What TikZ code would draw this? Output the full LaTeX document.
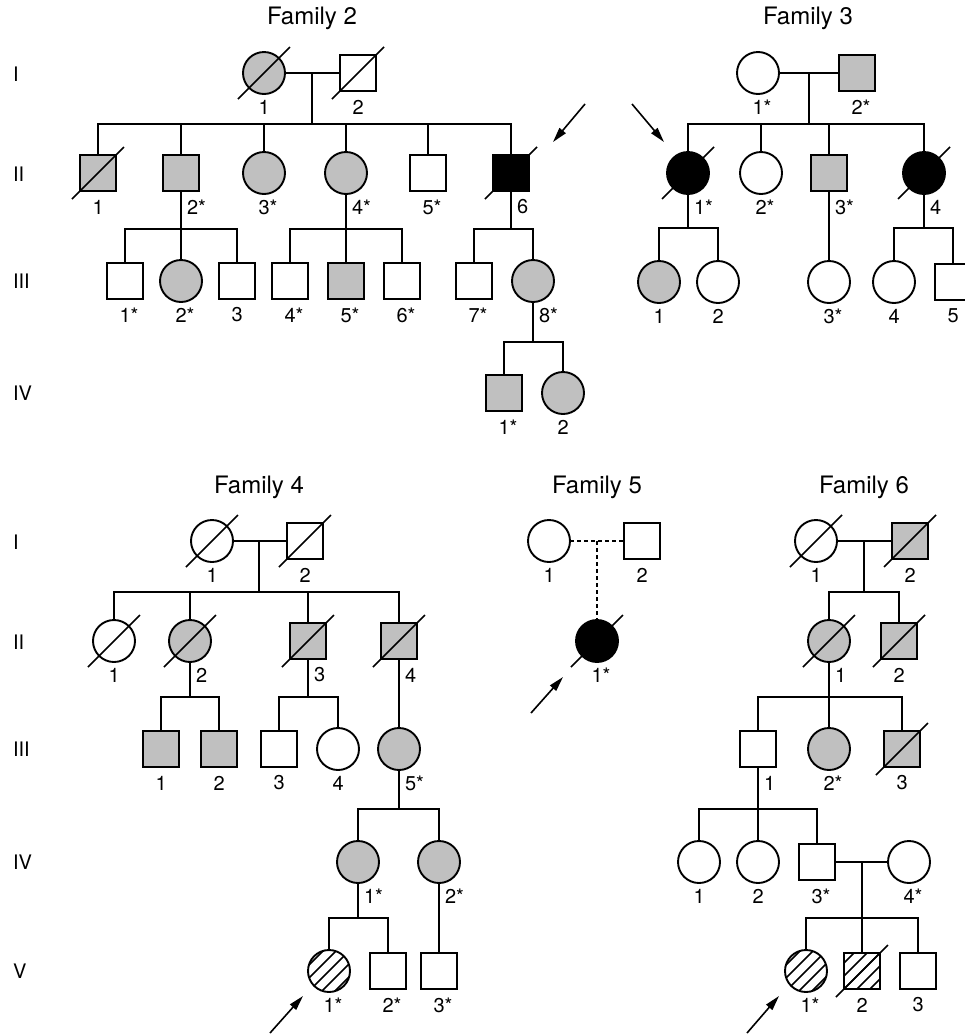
\documentclass[tikz,border=0pt]{standalone}
\usepackage{fontspec}
\setmainfont{TeX Gyre Heros}
\usetikzlibrary{calc,arrows.meta}
\definecolor{shade}{RGB}{192,192,192}
\newcommand\lblfont{\fontsize{20}{22}\selectfont}
\newcommand\ttlfont{\fontsize{24}{28}\selectfont}
\newcommand\deceased[1]{\draw[slash] ($(#1)+(-26,26)$) -- ($(#1)+(26,-26)$);}
\newcommand\labc[2]{\node[lbl] (#1L) at ($(#1)+(-5.5,34)$) {#2};}
\newcommand\labr[2]{\node[lbl] (#1L) at ($(#1)+(6,34)$) {#2};}
\begin{document}
\begin{tikzpicture}[x=1pt,y=-1pt,
  every node/.style={inner sep=0pt,outer sep=0pt},
  fem/.style={circle,draw,line width=1.9pt,minimum size=42pt,fill=white},
  mal/.style={rectangle,draw,line width=1.9pt,minimum size=36.5pt,fill=white},
  aff/.style={fill=shade},
  blk/.style={fill=black},
  hatch/.style={path picture={\foreach \k in {-52,-39,-26,-13,0,13,26,39,52}{\draw[line width=1.5pt] ($(path picture bounding box.center)+(\k-30,30)$) -- ++(60,-60);}}},
  ln/.style={line width=1.7pt},
  dln/.style={line width=1.7pt,dash pattern=on 4pt off 3pt},
  slash/.style={line width=1.6pt},
  lbl/.style={font=\lblfont,anchor=west},
  ttl/.style={font=\ttlfont},
  rowl/.style={font=\lblfont,anchor=west},
  proband/.style={line width=1.6pt,-{Triangle[length=15pt,width=8pt]}}]
\useasboundingbox (0,0) rectangle (965,1034);
\fill[white] (0,0) rectangle (965,1034);

% row labels
\node[rowl] (rA1) at (13,74) {I};
\node[rowl] (rA2) at (13,174) {II};
\node[rowl] (rA3) at (13,281) {III};
\node[rowl] (rA4) at (13,393) {IV};
\node[rowl] (rB1) at (13,542) {I};
\node[rowl] (rB2) at (13,642) {II};
\node[rowl] (rB3) at (13,749) {III};
\node[rowl] (rB4) at (13,862) {IV};
\node[rowl] (rB5) at (13,971) {V};

% ================= Family 2
\node[ttl] (t2) at (312,18) {Family 2};
\node[fem,aff] (f2a) at (264,73) {};
\node[mal] (f2b) at (358,73) {};
\draw[ln] (f2a) -- (f2b);
\coordinate (f2m) at (312,73);
\coordinate (f2s) at (312,124);
\draw[ln] (f2m) -- (f2s);
\deceased{f2a}\deceased{f2b}
\labc{f2a}{1}\labc{f2b}{2}
\node[mal,aff] (f2c1) at (98,173) {};
\node[mal,aff] (f2c2) at (181,173) {};
\node[fem,aff] (f2c3) at (264,173) {};
\node[fem,aff] (f2c4) at (346,173) {};
\node[mal] (f2c5) at (428,173) {};
\node[mal,blk] (f2c6) at (511,173) {};
\draw[ln] (f2c1) -- (f2c1 |- f2s) -- (f2c6 |- f2s) -- (f2c6);
\foreach \c in {f2c2,f2c3,f2c4,f2c5} \draw[ln] (\c) -- (\c |- f2s);
\deceased{f2c1}\deceased{f2c6}
\labc{f2c1}{1}\labr{f2c2}{2*}\labc{f2c3}{3*}\labr{f2c4}{4*}\labc{f2c5}{5*}\labr{f2c6}{6}
\coordinate (f2arT) at (585,104);
\coordinate (f2arH) at (553,142);
\draw[proband] (f2arT) -- (f2arH);
% III
\coordinate (f2s2) at (181,229);
\node[mal] (f2g1) at (125,281) {};
\node[fem,aff] (f2g2) at (181,281) {};
\node[mal] (f2g3) at (237,281) {};
\draw[ln] (f2c2) -- (f2s2);
\draw[ln] (f2g1) -- (f2g1 |- f2s2) -- (f2g3 |- f2s2) -- (f2g3);
\draw[ln] (f2g2) -- (f2s2);
\coordinate (f2s4) at (346,229);
\node[mal] (f2g4) at (290,281) {};
\node[mal,aff] (f2g5) at (346,281) {};
\node[mal] (f2g6) at (402,281) {};
\draw[ln] (f2c4) -- (f2s4);
\draw[ln] (f2g4) -- (f2g4 |- f2s4) -- (f2g6 |- f2s4) -- (f2g6);
\draw[ln] (f2g5) -- (f2s4);
\coordinate (f2s6) at (511,229);
\node[mal] (f2g7) at (474,281) {};
\node[fem,aff] (f2g8) at (533,281) {};
\draw[ln] (f2c6) -- (f2s6);
\draw[ln] (f2g7) -- (f2g7 |- f2s6) -- (f2g8 |- f2s6) -- (f2g8);
\labc{f2g1}{1*}\labc{f2g2}{2*}\labc{f2g3}{3}\labc{f2g4}{4*}\labc{f2g5}{5*}\labc{f2g6}{6*}\labc{f2g7}{7*}\labr{f2g8}{8*}
% IV
\coordinate (f2s8) at (533,342);
\node[mal,aff] (f2h1) at (504,393) {};
\node[fem,aff] (f2h2) at (563,393) {};
\draw[ln] (f2g8) -- (f2s8);
\draw[ln] (f2h1) -- (f2h1 |- f2s8) -- (f2h2 |- f2s8) -- (f2h2);
\labc{f2h1}{1*}\labc{f2h2}{2}

% ================= Family 3
\node[ttl] (t3) at (808,18) {Family 3};
\node[fem] (f3a) at (758,73) {};
\node[mal,aff] (f3b) at (857,73) {};
\draw[ln] (f3a) -- (f3b);
\coordinate (f3m) at (809,73);
\coordinate (f3s) at (809,124);
\draw[ln] (f3m) -- (f3s);
\labc{f3a}{1*}\labc{f3b}{2*}
\node[fem,blk] (f3d1) at (688,173) {};
\node[fem] (f3d2) at (761,173) {};
\node[mal,aff] (f3d3) at (829,173) {};
\node[fem,blk] (f3d4) at (924,173) {};
\draw[ln] (f3d1) -- (f3d1 |- f3s) -- (f3d4 |- f3s) -- (f3d4);
\foreach \c in {f3d2,f3d3} \draw[ln] (\c) -- (\c |- f3s);
\deceased{f3d1}\deceased{f3d4}
\labr{f3d1}{1*}\labc{f3d2}{2*}\labr{f3d3}{3*}\labr{f3d4}{4}
\coordinate (f3arT) at (632,104);
\coordinate (f3arH) at (664,142);
\draw[proband] (f3arT) -- (f3arH);
\coordinate (f3s1) at (688,228);
\node[fem,aff] (f3e1) at (659,282) {};
\node[fem] (f3e2) at (718,282) {};
\draw[ln] (f3d1) -- (f3s1);
\draw[ln] (f3e1) -- (f3e1 |- f3s1) -- (f3e2 |- f3s1) -- (f3e2);
\node[fem] (f3e3) at (829,282) {};
\draw[ln] (f3d3) -- (f3e3);
\coordinate (f3s4) at (924,228);
\node[fem] (f3e4) at (894,282) {};
\node[mal] (f3e5) at (953,282) {};
\draw[ln] (f3d4) -- (f3s4);
\draw[ln] (f3e4) -- (f3e4 |- f3s4) -- (f3e5 |- f3s4) -- (f3e5);
\labc{f3e1}{1}\labc{f3e2}{2}\labc{f3e3}{3*}\labc{f3e4}{4}\labc{f3e5}{5}

% ================= Family 4
\node[ttl] (t4) at (259,487) {Family 4};
\node[fem] (f4a) at (212,541) {};
\node[mal] (f4b) at (305,541) {};
\draw[ln] (f4a) -- (f4b);
\coordinate (f4m) at (259,541);
\coordinate (f4s) at (259,592);
\draw[ln] (f4m) -- (f4s);
\deceased{f4a}\deceased{f4b}
\labc{f4a}{1}\labc{f4b}{2}
\node[fem] (f4c1) at (114,641) {};
\node[fem,aff] (f4c2) at (190,641) {};
\node[mal,aff] (f4c3) at (308,641) {};
\node[mal,aff] (f4c4) at (399,641) {};
\draw[ln] (f4c1) -- (f4c1 |- f4s) -- (f4c4 |- f4s) -- (f4c4);
\foreach \c in {f4c2,f4c3} \draw[ln] (\c) -- (\c |- f4s);
\deceased{f4c1}\deceased{f4c2}\deceased{f4c3}\deceased{f4c4}
\labc{f4c1}{1}\labr{f4c2}{2}\labr{f4c3}{3}\labr{f4c4}{4}
\coordinate (f4s2) at (190,697);
\node[mal,aff] (f4g1) at (161,749) {};
\node[mal,aff] (f4g2) at (219,749) {};
\draw[ln] (f4c2) -- (f4s2);
\draw[ln] (f4g1) -- (f4g1 |- f4s2) -- (f4g2 |- f4s2) -- (f4g2);
\coordinate (f4s3) at (308,697);
\node[mal] (f4g3) at (279,749) {};
\node[fem] (f4g4) at (338,749) {};
\draw[ln] (f4c3) -- (f4s3);
\draw[ln] (f4g3) -- (f4g3 |- f4s3) -- (f4g4 |- f4s3) -- (f4g4);
\node[fem,aff] (f4g5) at (399,749) {};
\draw[ln] (f4c4) -- (f4g5);
\labc{f4g1}{1}\labc{f4g2}{2}\labc{f4g3}{3}\labc{f4g4}{4}\labr{f4g5}{5*}
\coordinate (f4s5) at (399,809);
\node[fem,aff] (f4h1) at (358,862) {};
\node[fem,aff] (f4h2) at (439,862) {};
\draw[ln] (f4g5) -- (f4s5);
\draw[ln] (f4h1) -- (f4h1 |- f4s5) -- (f4h2 |- f4s5) -- (f4h2);
\labr{f4h1}{1*}\labr{f4h2}{2*}
\coordinate (f4s6) at (358,918);
\node[fem,hatch] (f4v1) at (329,971) {};
\node[mal] (f4v2) at (388,971) {};
\draw[ln] (f4h1) -- (f4s6);
\draw[ln] (f4v1) -- (f4v1 |- f4s6) -- (f4v2 |- f4s6) -- (f4v2);
\node[mal] (f4v3) at (439,971) {};
\draw[ln] (f4h2) -- (f4v3);
\labc{f4v1}{1*}\labc{f4v2}{2*}\labc{f4v3}{3*}
\coordinate (f4arT) at (270,1033);
\coordinate (f4arH) at (303,996);
\draw[proband] (f4arT) -- (f4arH);

% ================= Family 5
\node[ttl] (t5) at (597,487) {Family 5};
\node[fem] (f5a) at (549,541) {};
\node[mal] (f5b) at (642,541) {};
\draw[dln] (f5a) -- (f5b);
\coordinate (f5m) at (597,541);
\node[fem,blk] (f5c) at (597,641) {};
\draw[dln] (f5m) -- (f5c);
\deceased{f5c}
\labc{f5a}{1}\labc{f5b}{2}\labc{f5c}{1*}
\coordinate (f5arT) at (531,713);
\coordinate (f5arH) at (563,677);
\draw[proband] (f5arT) -- (f5arH);

% ================= Family 6
\node[ttl] (t6) at (864,487) {Family 6};
\node[fem] (f6a) at (816,541) {};
\node[mal,aff] (f6b) at (910,541) {};
\draw[ln] (f6a) -- (f6b);
\coordinate (f6m) at (864,541);
\coordinate (f6s) at (864,592);
\draw[ln] (f6m) -- (f6s);
\deceased{f6a}\deceased{f6b}
\labc{f6a}{1}\labc{f6b}{2}
\node[fem,aff] (f6c1) at (829,641) {};
\node[mal,aff] (f6c2) at (899,641) {};
\draw[ln] (f6c1) -- (f6c1 |- f6s) -- (f6c2 |- f6s) -- (f6c2);
\deceased{f6c1}\deceased{f6c2}
\labr{f6c1}{1}\labc{f6c2}{2}
\coordinate (f6s1) at (829,697);
\node[mal] (f6g1) at (758,749) {};
\node[fem,aff] (f6g2) at (829,749) {};
\node[mal,aff] (f6g3) at (902,749) {};
\draw[ln] (f6c1) -- (f6s1);
\draw[ln] (f6g1) -- (f6g1 |- f6s1) -- (f6g3 |- f6s1) -- (f6g3);
\draw[ln] (f6g2) -- (f6s1);
\deceased{f6g3}
\labr{f6g1}{1}\labc{f6g2}{2*}\labc{f6g3}{3}
\coordinate (f6s2) at (758,809);
\node[fem] (f6h1) at (699,862) {};
\node[fem] (f6h2) at (758,862) {};
\node[mal] (f6h3) at (817,862) {};
\node[fem] (f6h4) at (909,862) {};
\draw[ln] (f6g1) -- (f6s2);
\draw[ln] (f6h1) -- (f6h1 |- f6s2) -- (f6h3 |- f6s2) -- (f6h3);
\draw[ln] (f6h2) -- (f6s2);
\draw[ln] (f6h3) -- (f6h4);
\labc{f6h1}{1}\labc{f6h2}{2}\labc{f6h3}{3*}\labc{f6h4}{4*}
\coordinate (f6m2) at (862,862);
\coordinate (f6s3) at (862,918);
\draw[ln] (f6m2) -- (f6s3);
\node[fem,hatch] (f6v1) at (806,971) {};
\node[mal,hatch] (f6v2) at (862,971) {};
\node[mal] (f6v3) at (918,971) {};
\draw[ln] (f6v1) -- (f6v1 |- f6s3) -- (f6v3 |- f6s3) -- (f6v3);
\draw[ln] (f6v2) -- (f6s3);
\deceased{f6v2}
\labc{f6v1}{1*}\labc{f6v2}{2}\labc{f6v3}{3}
\coordinate (f6arT) at (747,1033);
\coordinate (f6arH) at (779,996);
\draw[proband] (f6arT) -- (f6arH);
\end{tikzpicture}
\end{document}
